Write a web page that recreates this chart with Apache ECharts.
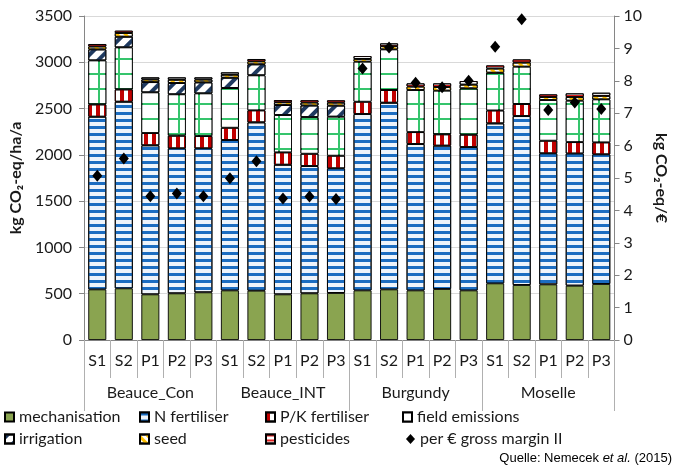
<!DOCTYPE html>
<html><head><meta charset="utf-8">
<script src="https://cdn.jsdelivr.net/npm/echarts@6/dist/echarts.min.js"></script>
<style>html,body{margin:0;padding:0;background:#fff}#c{width:677px;height:469px}</style>
</head><body><div id="c"></div>
<script>
const categories = ['S1','S2','P1','P2','P3','S1','S2','P1','P2','P3','S1','S2','P1','P2','P3','S1','S2','P1','P2','P3'];
const groups = ['Beauce_Con','Beauce_INT','Burgundy','Moselle'];
const mechanisation = [547,558,493,504,515,536,533,493,504,508,536,547,536,551,536,612,594,601,587,605];
const nFertiliser = [1865,2016,1610,1566,1555,1624,1818,1400,1375,1346,1905,2016,1581,1548,1548,1728,1825,1415,1427,1400];
const pkFertiliser = [133,133,133,137,133,133,130,134,133,137,133,137,129,123,134,140,130,137,124,130];
const fieldEmissions = [475,454,439,447,461,429,378,403,396,421,432,439,454,471,500,407,403,439,447,464];
const irrigation = [119,115,111,122,119,111,119,108,125,120,null,null,null,null,null,null,null,null,null,null];
const seed = [32,40,28,35,30,32,32,30,32,32,30,35,38,40,40,45,45,33,40,38];
const pesticides = [26,25,23,26,24,26,25,24,25,25,31,30,34,39,39,34,34,28,39,34];
const perGrossMargin = [5.07,5.60,4.44,4.52,4.44,4.99,5.52,4.37,4.43,4.35,8.38,9.03,7.94,7.80,8.00,9.05,9.90,7.10,7.33,7.13];

const FONT = 'Lato';
const TXT = '#1a1a1a';
const FS = 16;
const chart = echarts.init(document.getElementById('c'));

const border = {borderColor:'#000', borderWidth:0.9};
function bar(name, data, style) {
  return {name, type:'bar', stack:'total', data, barWidth:18, xAxisIndex:0, yAxisIndex:0,
    itemStyle:Object.assign({}, border, style), emphasis:{disabled:true}};
}

const legendPos = [
  ['mechanisation',4,409,'rect'],['N fertiliser',139,409,'rect'],['P/K fertiliser',265,409,'rect'],['field emissions',402,409,'rect'],
  ['irrigation',4,431,'rect'],['seed',139,431,'rect'],['pesticides',265,431,'rect'],['per € gross margin II',406,431,'diamond']
];

chart.setOption({
  animation:false,
  grid:{left:83.5, right:54, top:16, bottom:129, containLabel:false},
  legend: legendPos.map(([n,x,y,icon]) => ({
    data:[{name:n, icon}], left:x, top:y, padding:0, itemGap:0,
    itemWidth:9, itemHeight: icon==='diamond'?10:9,
    selectedMode:false,
    textStyle:{fontFamily:FONT, fontSize:FS, color:TXT}
  })),
  xAxis:[
    {type:'category', data:categories, position:'bottom',
     axisLine:{show:true, lineStyle:{color:'#868686'}},
     axisTick:{show:true, length:38, interval:0, alignWithLabel:false, lineStyle:{color:'#b0b0b0'}},
     axisLabel:{interval:0, margin:13, fontFamily:FONT, fontSize:FS, color:TXT}},
    {type:'category', data:groups, position:'bottom',
     axisLine:{show:false},
     axisTick:{show:true, length:71, interval:0, alignWithLabel:false, lineStyle:{color:'#b0b0b0'}},
     axisLabel:{interval:0, margin:45, fontFamily:FONT, fontSize:FS, color:TXT}}
  ],
  yAxis:[
    {type:'value', min:0, max:3500, interval:500, position:'left',
     name:'kg CO₂-eq/ha/a', nameLocation:'middle', nameRotate:90, nameGap:54,
     nameTextStyle:{fontFamily:FONT, fontSize:FS, fontWeight:'bold', color:TXT},
     axisLine:{show:true, lineStyle:{color:'#868686'}},
     axisTick:{show:true, length:5, lineStyle:{color:'#868686'}},
     axisLabel:{margin:12, fontFamily:FONT, fontSize:FS, color:TXT, formatter:v=>String(v)},
     splitLine:{show:true, lineStyle:{color:'#d9d9d9', width:1.2}}},
    {type:'value', min:0, max:10, interval:1, position:'right',
     name:'kg CO₂-eq/€', nameLocation:'middle', nameRotate:-90, nameGap:36,
     nameTextStyle:{fontFamily:FONT, fontSize:FS, fontWeight:'bold', color:TXT},
     axisLine:{show:true, lineStyle:{color:'#868686'}},
     axisTick:{show:true, length:5, lineStyle:{color:'#868686'}},
     axisLabel:{margin:9, fontFamily:FONT, fontSize:FS, color:TXT},
     splitLine:{show:false}}
  ],
  series:[
    bar('mechanisation', mechanisation, {color:'#8aa450'}),
    bar('N fertiliser', nFertiliser, {color:'#eef4fb',
      decal:{symbol:'rect', color:'#1c6dc1', dashArrayX:[1,0], dashArrayY:[3,3.3], rotation:0}}),
    bar('P/K fertiliser', pkFertiliser, {color:'#ffffff',
      decal:{symbol:'rect', color:'#c00000', dashArrayX:[3.3,3.2], dashArrayY:[1,0], rotation:0}}),
    bar('field emissions', fieldEmissions, {color:'#35c46c',
      decal:{symbol:'rect', color:'#ffffff', dashArrayX:[18,2], dashArrayY:[13,2], rotation:0}}),
    bar('irrigation', irrigation, {color:'#ffffff',
      decal:{symbol:'rect', color:'#1f3a60', dashArrayX:[1,0], dashArrayY:[4,6], rotation:-Math.PI/4}}),
    bar('seed', seed, {color:'#ffffff',
      decal:{symbol:'rect', color:'#ffc000', dashArrayX:[1,0], dashArrayY:[3,3], rotation:Math.PI/4}}),
    bar('pesticides', pesticides, {color:'#ffffff',
      decal:{symbol:'rect', color:'#e02020', dashArrayX:[1,0], dashArrayY:[1.5,3], rotation:0}}),
    {name:'per € gross margin II', type:'scatter', xAxisIndex:0, yAxisIndex:1, data:perGrossMargin,
     symbol:'diamond', symbolSize:[10,12], itemStyle:{color:'#000', opacity:1}, z:10, emphasis:{disabled:true}}
  ],
  graphic:[{type:'text', right:5, top:452,
    style:{text:'{a|Quelle: Nemecek }{i|et al.}{a| (2015)}',
      rich:{a:{fontFamily:'Liberation Sans', fontSize:13, fill:'#000'},
            i:{fontFamily:'Liberation Sans', fontSize:13, fontStyle:'italic', fill:'#000'}}}}]
});
</script></body></html>
